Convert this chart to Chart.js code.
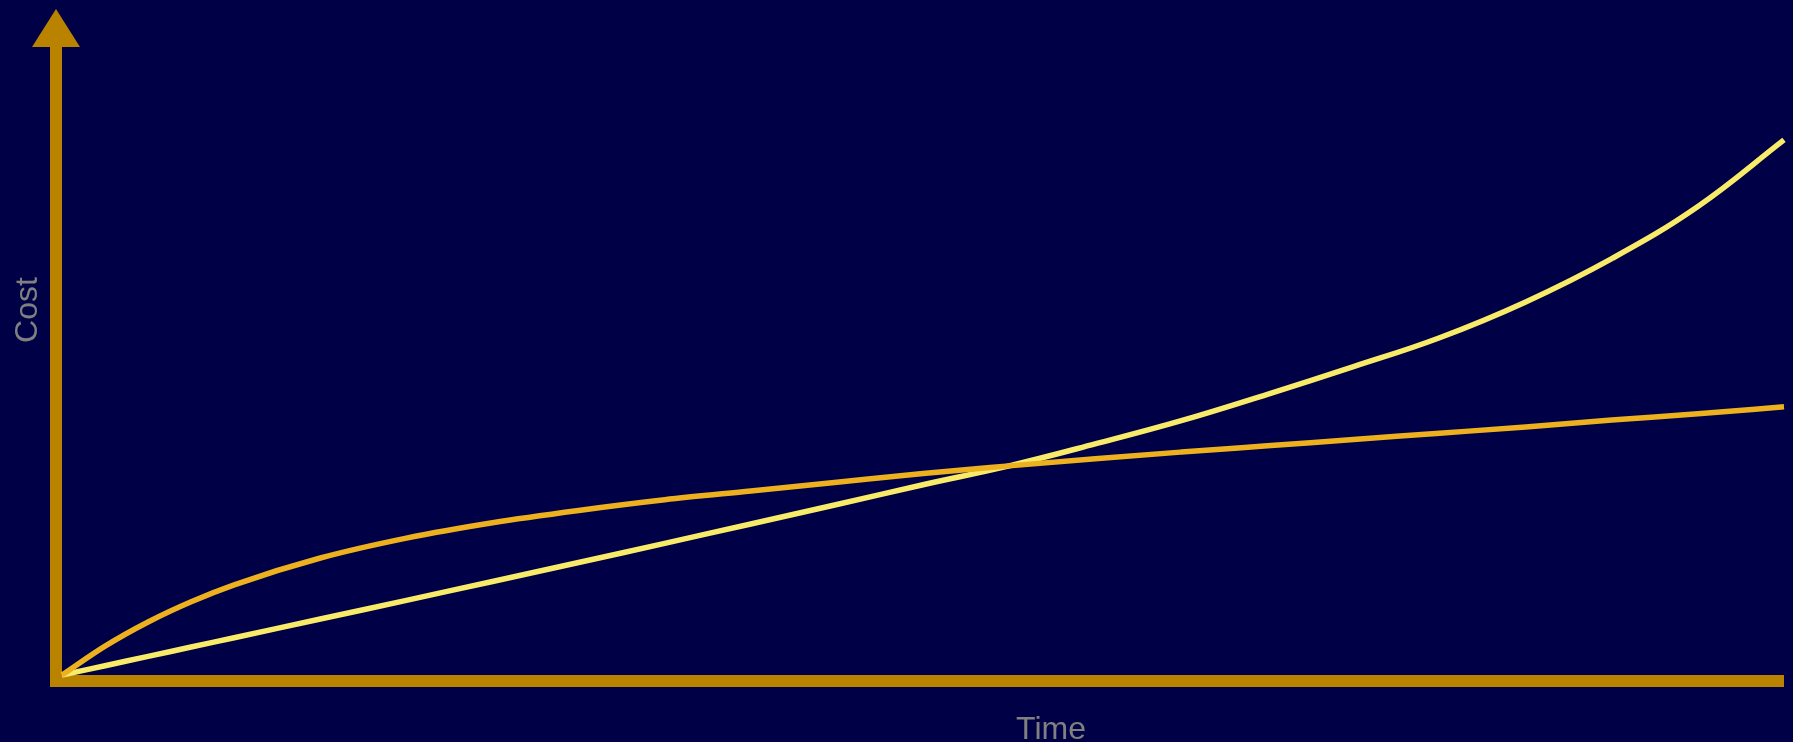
<!DOCTYPE html>
<html>
<head>
<meta charset="utf-8">
<script src="https://cdn.jsdelivr.net/npm/chart.js@4.4.1/dist/chart.umd.min.js"></script>
<style>
  html, body { margin: 0; padding: 0; background: #000046; }
  #wrap { width: 1793px; height: 742px; }
</style>
</head>
<body>
<div id="wrap"><canvas id="costChart"></canvas></div>
<script>
// Time axis positions (0 - 100)
const timeValues = [0, 2.5, 5, 7.5, 10, 15, 20, 25, 30, 35, 40, 45, 50, 55, 60, 65, 70, 75, 80, 85, 90, 95, 100];
// Cost curves (0 - 100)
const orangeCost = [0, 4.6, 8.45, 11.67, 14.36, 18.63, 21.8, 24.25, 26.2, 27.9, 29.3, 30.7, 32.1, 33.3, 34.45, 35.5, 36.5, 37.5, 38.5, 39.5, 40.6, 41.6, 42.7];
const yellowCost = [0, 1.48, 2.96, 4.45, 5.93, 8.91, 11.89, 14.89, 17.91, 20.96, 24.05, 27.15, 30.3, 33.3, 36.8, 40.5, 44.7, 49.1, 53.7, 59.4, 66.3, 74.6, 85.2];
const axisLabels = ["Time", "Cost"];

const axisColor = "#b98300";
const lineColors = ["#edb120", "#f9eb6a"];
const labelColor = "#808080";

function toPoints(xs, ys) {
    return xs.map((x, i) => ({ x: x, y: ys[i] }));
}

// Draws the two axis bars, the arrow head and the axis titles
const axesPlugin = {
    id: "axesPlugin",
    beforeDatasetsDraw(chart) {
        const ctx = chart.ctx;
        const area = chart.chartArea;
        const left = area.left, bottom = area.bottom;
        ctx.save();
        ctx.fillStyle = axisColor;
        // y axis bar
        ctx.fillRect(left - 12, area.top, 12, bottom - area.top + 12);
        // x axis bar
        ctx.fillRect(left - 12, bottom, area.right - left + 12, 12);
        // arrow head
        ctx.beginPath();
        ctx.moveTo(left - 6, 9);
        ctx.lineTo(left - 30, area.top);
        ctx.lineTo(left + 18, area.top);
        ctx.closePath();
        ctx.fill();

        ctx.fillStyle = labelColor;
        ctx.font = "32px 'Liberation Sans', Arial, sans-serif";
        ctx.textAlign = "center";
        ctx.textBaseline = "alphabetic";
        ctx.fillText(axisLabels[0], 1051, 739);
        ctx.translate(37, 310);
        ctx.rotate(-Math.PI / 2);
        ctx.fillText(axisLabels[1], 0, 0);
        ctx.restore();
    }
};

new Chart("costChart", {
    type: "line",
    data: {
        datasets: [{
            label: "Orange",
            data: toPoints(timeValues, orangeCost),
            borderColor: lineColors[0],
            borderWidth: 5.5,
            pointRadius: 0,
            cubicInterpolationMode: "monotone",
            clip: false
        }, {
            label: "Yellow",
            data: toPoints(timeValues, yellowCost),
            borderColor: lineColors[1],
            borderWidth: 5.5,
            pointRadius: 0,
            tension: 0.4,
            clip: false
        }]
    },
    options: {
        responsive: true,
        maintainAspectRatio: false,
        animation: false,
        layout: { padding: { left: 62, right: 9, top: 47, bottom: 67 } },
        plugins: {
            legend: { display: false },
            tooltip: { enabled: false }
        },
        scales: {
            x: { type: "linear", min: 0, max: 100, display: false },
            y: { min: 0, max: 100, display: false }
        }
    },
    plugins: [axesPlugin]
});
</script>
</body>
</html>
